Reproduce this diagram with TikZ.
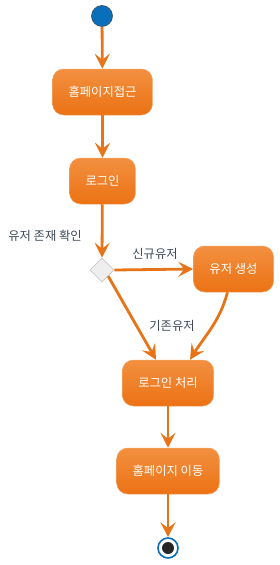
\documentclass[tikz,border=0pt]{standalone}
\usepackage{fontspec}
\newfontfamily\kr{Noto Sans CJK KR}
\usetikzlibrary{arrows.meta,positioning,shapes.geometric,calc}
\definecolor{flow}{HTML}{E8741A}
\definecolor{acttop}{HTML}{F29040}
\definecolor{actbot}{HTML}{EC7214}
\definecolor{actline}{HTML}{F3A262}
\definecolor{ink2}{HTML}{3E4A57}
\definecolor{startc}{HTML}{0A6FBA}
\definecolor{gate}{HTML}{EEEEEE}
\definecolor{gateline}{HTML}{C8C8C8}
\tikzset{
  >={Stealth[length=15pt,width=15pt,inset=6pt]},
  act/.style={draw=actline, line width=0.5pt, top color=acttop, bottom color=actbot,
    rounded corners=11pt, text=white, font=\kr\fontsize{12.3}{14}\selectfont,
    inner xsep=16pt, minimum height=46pt},
  gatebox/.style={diamond, draw=gateline, fill=gate, line width=0.6pt,
    minimum size=24pt, inner sep=0pt},
  flowarr/.style={->, draw=flow, line width=2.8pt},
  lbl/.style={font=\kr\fontsize{12.3}{14}\selectfont, text=ink2},
}
\begin{document}
\begin{tikzpicture}[x=1pt, y=-1pt]
  \useasboundingbox (0,0) rectangle (279,565);
  % start / end
  \node[circle, fill=startc, draw=ink2, line width=0.6pt, minimum size=21pt, inner sep=0pt] (start) at (102,16) {};
  \node[circle, draw=startc, fill=white, line width=1.6pt, minimum size=20pt, inner sep=0pt] (stop) at (168,548) {};
  \fill[black!85] (stop) circle (6pt);
  % activities
  \node[act] (home) at (102.5,92) {홈페이지접근};
  \node[act] (login) at (102.5,181) {로그인};
  \node[gatebox] (check) at (102,270) {};
  \node[act] (create) at (233.5,269) {유저 생성};
  \node[act] (proc) at (168,383) {로그인 처리};
  \node[act] (move) at (168,471) {홈페이지 이동};
  % labels
  \node[lbl] (lcheck) at (45,236) {유저 존재 확인};
  \node[lbl] (lnew) at (155,254) {신규유저};
  \node[lbl] (lold) at (172,326) {기존유저};
  % flows
  \draw[flowarr] (start) -- (home);
  \draw[flowarr] (home) -- (login);
  \draw[flowarr] (login) -- (check.north);
  \draw[flowarr] (check.east) -- (create.west);
  \draw[flowarr] (check.south east) -- ($(proc.north)+(-12,0)$);
  \draw[flowarr] ($(create.south)+(-6,0)$) to[out=-105, in=58] ($(proc.north)+(22,0)$);
  \draw[flowarr] (proc) -- (move);
  \draw[flowarr] (move) -- (stop);
\end{tikzpicture}
\end{document}
